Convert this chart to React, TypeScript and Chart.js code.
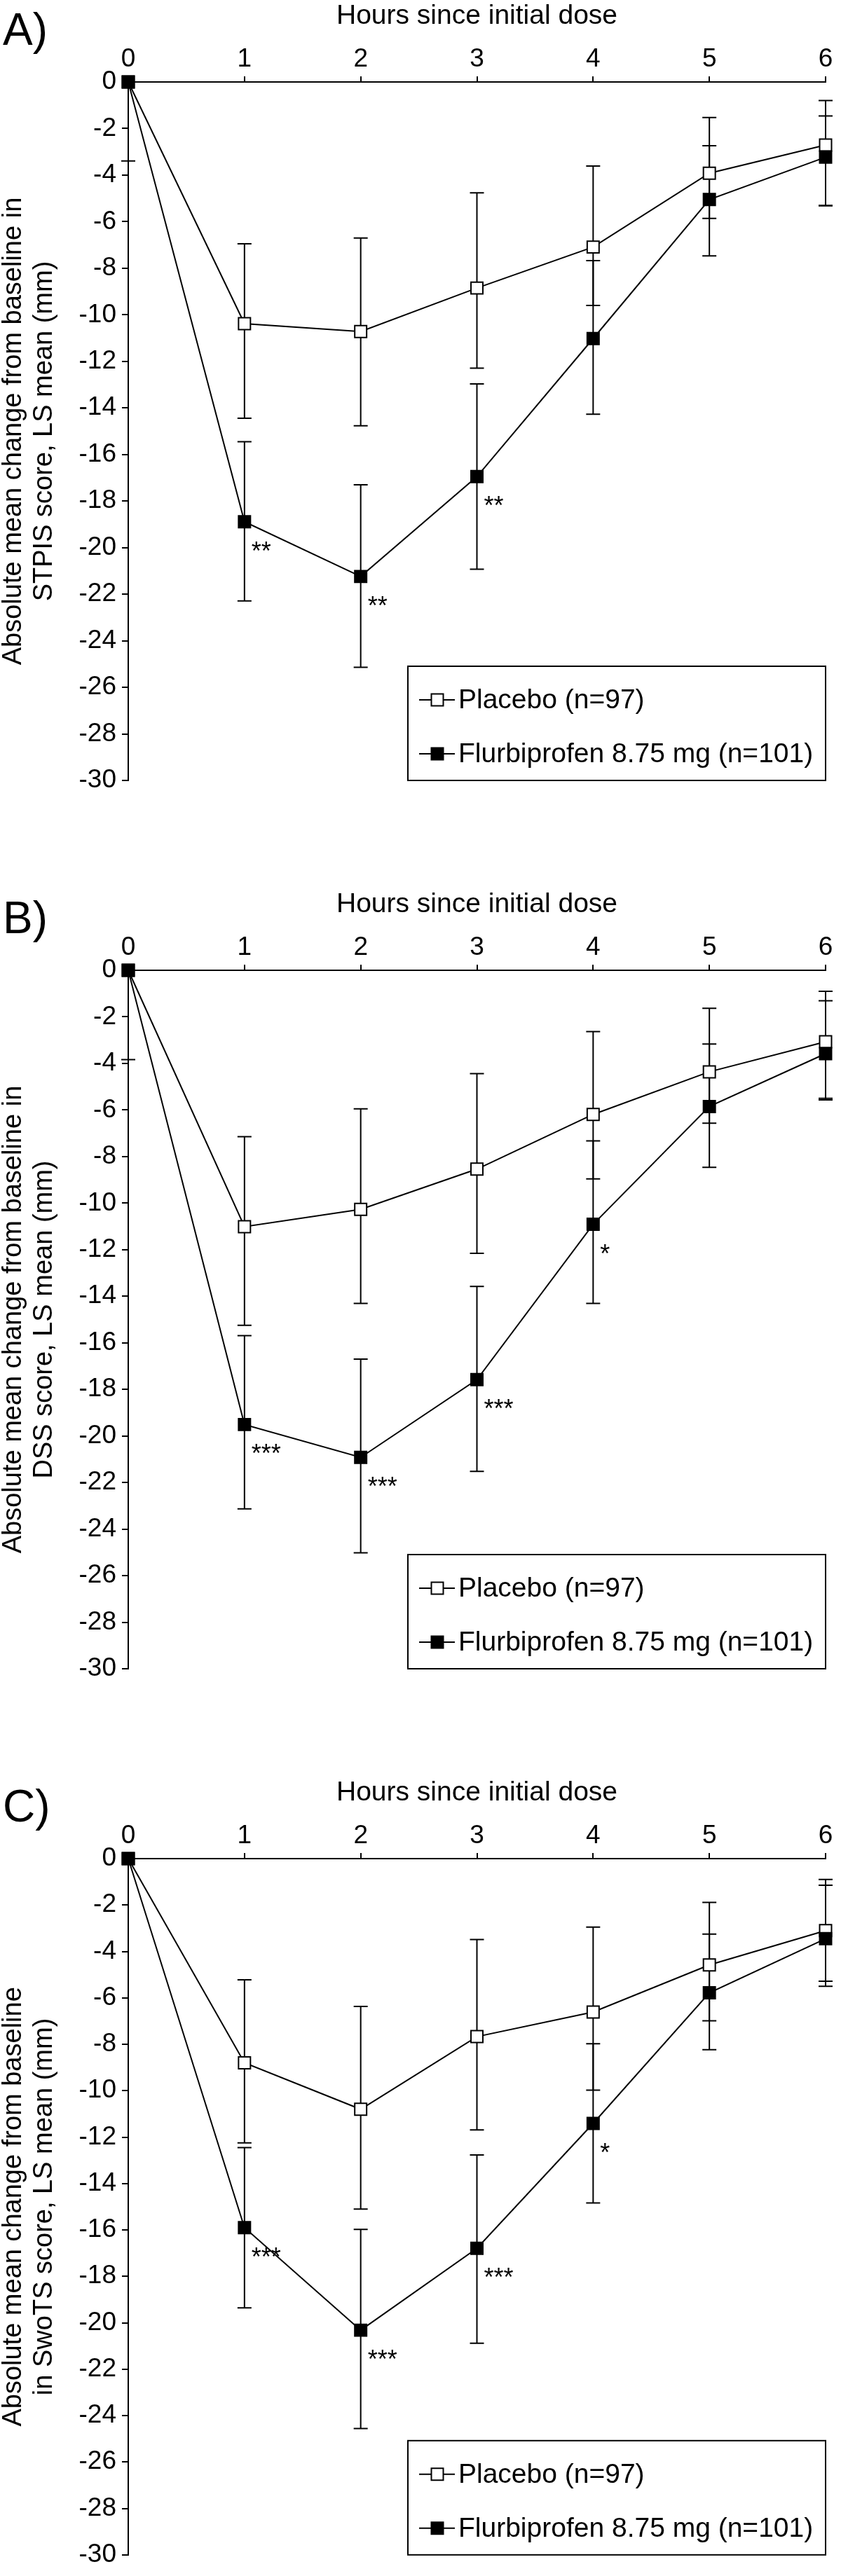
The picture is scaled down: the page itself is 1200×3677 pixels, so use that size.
import React, { useEffect, useRef } from 'react';
import { Chart, registerables } from 'chart.js';

Chart.register(...registerables);

const FONT = "'Liberation Sans', Arial, Helvetica, sans-serif";

// ---------- data ----------
const HOURS = [0, 1, 2, 3, 4, 5, 6];
const X_TITLE = 'Hours since initial dose';
const LEGEND_LABELS = ['Placebo (n=97)', 'Flurbiprofen 8.75 mg (n=101)'];

// Panel A (STPIS)
const A_PLACEBO = [0, -10.38, -10.72, -8.85, -7.09, -3.92, -2.71];
const A_PLACEBO_LO = [null, -14.44, -14.77, -12.29, -9.6, -5.86, -5.3];
const A_PLACEBO_HI = [null, -6.95, -6.7, -4.76, -3.61, -1.53, -0.8];
const A_FLURBI = [0, -18.89, -21.24, -16.95, -11.02, -5.05, -3.23];
const A_FLURBI_LO = [-3.39, -22.29, -25.14, -20.93, -14.27, -7.47, -5.32];
const A_FLURBI_HI = [3.39, -15.45, -17.3, -12.97, -7.67, -2.74, -1.46];
const A_STARS = ['', '**', '**', '**', '', '', ''];

// Panel B (DSS)
const B_PLACEBO = [0, -11.01, -10.27, -8.54, -6.19, -4.36, -3.07];
const B_PLACEBO_LO = [null, -15.25, -14.31, -12.16, -8.96, -6.57, -5.5];
const B_PLACEBO_HI = [null, -7.15, -5.95, -4.44, -2.63, -1.63, -0.9];
const B_FLURBI = [0, -19.51, -20.92, -17.58, -10.91, -5.85, -3.58];
const B_FLURBI_LO = [-3.84, -23.13, -25.02, -21.52, -14.31, -8.46, -5.57];
const B_FLURBI_HI = [3.84, -15.69, -16.7, -13.58, -7.33, -3.17, -1.31];
const B_STARS = ['', '***', '***', '***', '*', '', ''];

// Panel C (SwoTS)
const C_PLACEBO = [0, -8.8, -10.8, -7.67, -6.61, -4.58, -3.1];
const C_PLACEBO_LO = [null, -12.25, -15.1, -11.69, -9.98, -6.99, -5.28];
const C_PLACEBO_HI = [null, -5.22, -6.37, -3.49, -2.95, -1.89, -0.9];
const C_FLURBI = [0, -15.9, -20.32, -16.79, -11.41, -5.78, -3.45];
const C_FLURBI_LO = [null, -19.36, -24.56, -20.88, -14.84, -8.23, -5.5];
const C_FLURBI_HI = [null, -12.45, -15.98, -12.77, -7.98, -3.25, -1.15];
const C_STARS = ['', '***', '***', '***', '*', '', ''];

const Y_MIN = -30;
const Y_MAX = 0;
const Y_STEP = 2;

type PanelData = {
  label: string;
  yTitle: string[];
  placebo: number[];
  placeboLo: (number | null)[];
  placeboHi: (number | null)[];
  flurbi: number[];
  flurbiLo: (number | null)[];
  flurbiHi: (number | null)[];
  stars: string[];
};

const PANELS: PanelData[] = [
  {
    label: 'A)',
    yTitle: ['Absolute mean change from baseline in', 'STPIS score, LS mean (mm)'],
    placebo: A_PLACEBO, placeboLo: A_PLACEBO_LO, placeboHi: A_PLACEBO_HI,
    flurbi: A_FLURBI, flurbiLo: A_FLURBI_LO, flurbiHi: A_FLURBI_HI, stars: A_STARS,
  },
  {
    label: 'B)',
    yTitle: ['Absolute mean change from baseline in', 'DSS score, LS mean (mm)'],
    placebo: B_PLACEBO, placeboLo: B_PLACEBO_LO, placeboHi: B_PLACEBO_HI,
    flurbi: B_FLURBI, flurbiLo: B_FLURBI_LO, flurbiHi: B_FLURBI_HI, stars: B_STARS,
  },
  {
    label: 'C)',
    yTitle: ['Absolute mean change from baseline', 'in SwoTS score, LS mean (mm)'],
    placebo: C_PLACEBO, placeboLo: C_PLACEBO_LO, placeboHi: C_PLACEBO_HI,
    flurbi: C_FLURBI, flurbiLo: C_FLURBI_LO, flurbiHi: C_FLURBI_HI, stars: C_STARS,
  },
];

// ---------- layout ----------
const W = 1200;
const PANEL_TOPS = [0, 1268, 2536];
const PANEL_HEIGHTS = [1268, 1268, 1141];
const PLOT_LEFT = 183;
const PLOT_TOP = 117;
const PLOT_BOTTOM = 1114;
const PLOT_RIGHT_PAD = 22;

function drawSquare(ctx: CanvasRenderingContext2D, cx: number, cy: number, filled: boolean) {
  const s = 17;
  ctx.save();
  ctx.lineWidth = 2;
  ctx.strokeStyle = '#000';
  ctx.fillStyle = filled ? '#000' : '#fff';
  ctx.beginPath();
  ctx.rect(cx - s / 2, cy - s / 2, s, s);
  ctx.fill();
  ctx.stroke();
  ctx.restore();
}

function makePlugin(p: PanelData) {
  return {
    id: 'panelExtras',
    beforeDatasetsDraw(chart: any) {
      const { ctx, chartArea } = chart;
      const x = chart.scales.x;
      const y = chart.scales.y;
      ctx.save();
      ctx.beginPath();
      ctx.rect(0, chartArea.top, chart.width, chart.height - chartArea.top);
      ctx.clip();
      ctx.strokeStyle = '#000';
      ctx.lineWidth = 2;
      const bars: [(number | null)[], (number | null)[]][] = [
        [p.placeboLo, p.placeboHi],
        [p.flurbiLo, p.flurbiHi],
      ];
      for (const [lo, hi] of bars) {
        for (let i = 0; i < HOURS.length; i++) {
          const l = lo[i];
          const h = hi[i];
          if (l == null || h == null) continue;
          const px = x.getPixelForValue(HOURS[i]);
          const y1 = y.getPixelForValue(l);
          const y2 = y.getPixelForValue(h);
          ctx.beginPath();
          ctx.moveTo(px, y1);
          ctx.lineTo(px, y2);
          ctx.moveTo(px - 10, y1);
          ctx.lineTo(px + 10, y1);
          ctx.moveTo(px - 10, y2);
          ctx.lineTo(px + 10, y2);
          ctx.stroke();
        }
      }
      ctx.restore();
    },
    afterDraw(chart: any) {
      const { ctx, chartArea } = chart;
      const x = chart.scales.x;
      const y = chart.scales.y;
      ctx.save();
      // significance stars
      ctx.fillStyle = '#000';
      ctx.font = `36px ${FONT}`;
      ctx.textAlign = 'left';
      ctx.textBaseline = 'alphabetic';
      for (let i = 0; i < HOURS.length; i++) {
        const s = p.stars[i];
        if (!s) continue;
        const px = x.getPixelForValue(HOURS[i]);
        const py = y.getPixelForValue(p.flurbi[i]);
        ctx.fillText(s, px + 10, py + 54);
      }
      // legend box
      const right = chartArea.right;
      const bottom = chartArea.bottom;
      const left = right - 596;
      const top = bottom - 163;
      ctx.fillStyle = '#fff';
      ctx.fillRect(left, top, right - left, bottom - top);
      ctx.strokeStyle = '#000';
      ctx.lineWidth = 2;
      ctx.strokeRect(left, top, right - left, bottom - top);
      const rows = [bottom - 115, bottom - 38];
      rows.forEach((ry, k) => {
        ctx.beginPath();
        ctx.lineWidth = 2;
        ctx.moveTo(left + 16, ry);
        ctx.lineTo(left + 67, ry);
        ctx.stroke();
        drawSquare(ctx, left + 42, ry, k === 1);
        ctx.fillStyle = '#000';
        ctx.font = `39px ${FONT}`;
        ctx.textBaseline = 'middle';
        ctx.textAlign = 'left';
        ctx.fillText(LEGEND_LABELS[k], left + 72, ry + 1);
      });
      // panel label
      ctx.font = `64px ${FONT}`;
      ctx.textBaseline = 'alphabetic';
      ctx.textAlign = 'left';
      ctx.fillStyle = '#000';
      ctx.fillText(p.label, 4, 64);
      ctx.restore();
    },
  };
}

function Panel({ data, top, height }: { data: PanelData; top: number; height: number }) {
  const ref = useRef<HTMLCanvasElement | null>(null);
  useEffect(() => {
    if (!ref.current) return;
    const chart = new Chart(ref.current, {
      type: 'line',
      data: {
        datasets: [
          {
            label: LEGEND_LABELS[1],
            data: HOURS.map((h, i) => ({ x: h, y: data.flurbi[i] })),
            borderColor: '#000',
            borderWidth: 2,
            backgroundColor: '#000',
            pointStyle: 'rect',
            pointRadius: 12,
            pointBorderWidth: 2,
            pointBackgroundColor: '#000',
            pointBorderColor: '#000',
            tension: 0,
            clip: false as any,
          },
          {
            label: LEGEND_LABELS[0],
            data: HOURS.map((h, i) => ({ x: h, y: data.placebo[i] })),
            borderColor: '#000',
            borderWidth: 2,
            backgroundColor: '#fff',
            pointStyle: 'rect',
            pointRadius: 12,
            pointBorderWidth: 2,
            pointBackgroundColor: '#fff',
            pointBorderColor: '#000',
            tension: 0,
            clip: false as any,
          },
        ],
      },
      options: {
        responsive: false,
        maintainAspectRatio: false,
        animation: false,
        events: [],
        layout: {
          padding: { left: 0, top: 0, right: PLOT_RIGHT_PAD, bottom: height - PLOT_BOTTOM },
        },
        plugins: {
          legend: { display: false },
          tooltip: { enabled: false },
        },
        scales: {
          x: {
            type: 'linear',
            position: 'top',
            min: 0,
            max: 6,
            ticks: {
              stepSize: 1,
              color: '#000',
              font: { family: FONT, size: 37 },
              padding: 2,
              maxRotation: 0,
            },
            grid: {
              display: true,
              drawOnChartArea: false,
              drawTicks: true,
              tickLength: 8,
              color: '#000',
              lineWidth: 2,
            },
            border: { display: true, color: '#000', width: 2 },
            title: {
              display: true,
              text: X_TITLE,
              color: '#000',
              font: { family: FONT, size: 39 },
              padding: { top: 0, bottom: 0 },
            },
            afterFit: (scale: any) => {
              scale.height = PLOT_TOP;
            },
          },
          y: {
            type: 'linear',
            position: 'left',
            min: Y_MIN,
            max: Y_MAX,
            ticks: {
              stepSize: Y_STEP,
              color: '#000',
              font: { family: FONT, size: 37 },
              padding: 8,
            },
            grid: {
              display: true,
              drawOnChartArea: false,
              drawTicks: true,
              tickLength: 9,
              color: '#000',
              lineWidth: 2,
            },
            border: { display: true, color: '#000', width: 2 },
            title: {
              display: true,
              text: data.yTitle,
              color: '#000',
              font: { family: FONT, size: 38, lineHeight: 1.158 },
              padding: { top: -2, bottom: 0 },
            },
            afterFit: (scale: any) => {
              scale.width = PLOT_LEFT;
            },
          },
        },
      } as any,
      plugins: [makePlugin(data)],
    });
    return () => chart.destroy();
  }, [data, height]);

  return (
    <canvas
      ref={ref}
      width={W}
      height={height}
      style={{ position: 'absolute', left: 0, top, width: W, height }}
    />
  );
}

export default function App() {
  return (
    <div style={{ position: 'absolute', left: 0, top: 0, width: W, height: 3677, background: '#fff' }}>
      {PANELS.map((p, i) => (
        <Panel key={p.label} data={p} top={PANEL_TOPS[i]} height={PANEL_HEIGHTS[i]} />
      ))}
    </div>
  );
}
